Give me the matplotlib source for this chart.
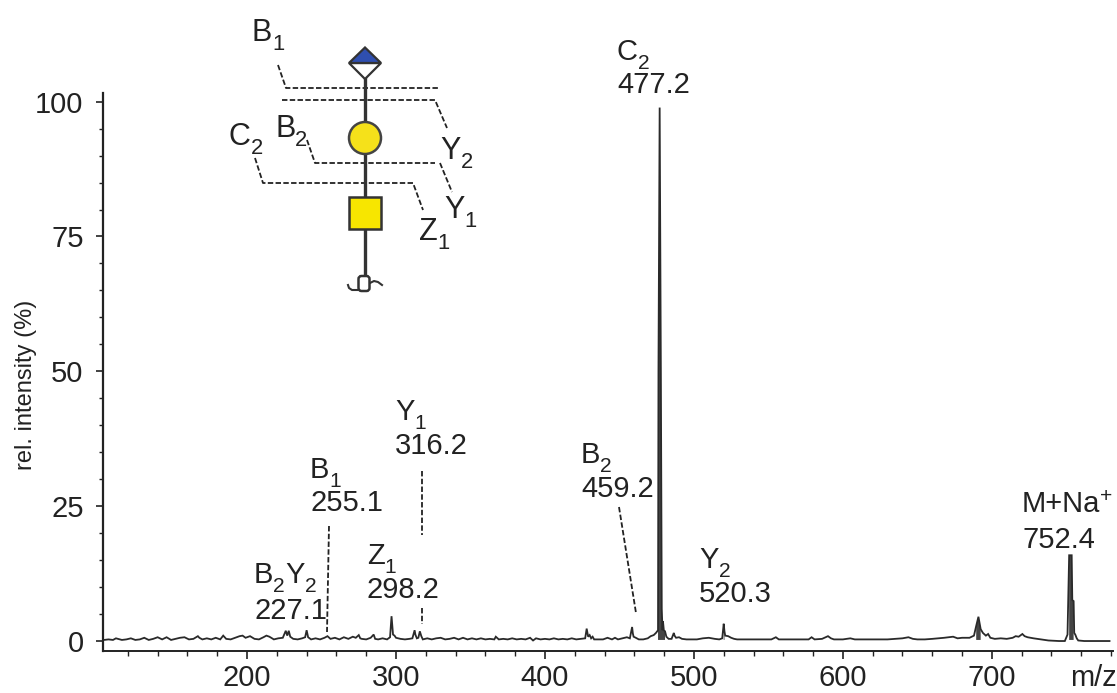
import matplotlib
matplotlib.use("Agg")
import matplotlib.pyplot as plt
from matplotlib.patches import Circle, Polygon, Rectangle, FancyBboxPatch
from matplotlib.ticker import MultipleLocator

plt.rcParams['font.family'] = ['Liberation Sans', 'DejaVu Sans']

# spectrum
mz = [104, 107, 110, 112, 116, 119, 122, 125, 128, 131,
      134, 137, 140, 143, 146, 149, 152, 155, 158, 161,
      164, 167, 168, 170, 173, 176, 179, 182, 184, 186,
      189, 192, 195, 197, 199, 202, 205, 208, 211, 213,
      215, 218, 221, 224, 226, 227, 228, 229, 231, 234,
      237, 239, 240, 241, 243, 246, 249, 252, 254, 256,
      259, 262, 265, 268, 271, 273, 275, 276, 277, 280,
      283, 285, 286, 288, 291, 294, 296, 297, 298, 299,
      300, 303, 306, 309, 311, 312.5, 313, 314, 315, 316,
      317, 318, 321, 324, 327, 330, 333, 336, 339, 342,
      345, 348, 351, 354, 357, 360, 363, 366, 367, 369,
      372, 375, 378, 381, 384, 387, 390, 392, 394, 397,
      400, 403, 406, 409, 412, 415, 418, 421, 424, 427,
      428, 429, 430, 431, 432, 433, 436, 439, 442, 445,
      447, 449, 452, 455, 457, 458.5, 459, 459.5, 461, 463,
      466, 469, 471, 473, 474.5, 475.9, 476.2, 477.0, 477.8, 478.4,
      478.9, 479.2, 479.8, 480.6, 481.5, 483, 485, 486.5, 487, 488,
      490, 492, 495, 498, 502, 506, 510, 514, 517, 519,
      520, 520.5, 521, 523, 525, 527, 529, 533, 538, 545,
      552, 555, 557, 562, 570, 577, 579, 581, 586, 590,
      592, 594, 600, 605, 608, 612, 620, 630, 640, 644,
      647, 650, 655, 660, 668, 674, 677, 680, 685, 688,
      689.5, 691, 692.5, 694, 696, 697.5, 699, 702, 706, 710,
      714, 716, 718, 720.5, 722, 724, 728, 733, 738, 745,
      749, 750.8, 751.9, 753.6, 754, 754.9, 755.3, 756, 757, 758,
      762, 770, 779]
intensity = [0.2, 0.3, 0.2, 0.5, 0.2, 0.3, 0.5, 0.2, 0.3, 0.6,
             0.2, 0.4, 0.7, 0.3, 0.7, 0.2, 0.4, 0.6, 0.7, 0.3,
             0.4, 0.9, 0.6, 0.3, 0.5, 0.3, 0.6, 0.3, 1.0, 0.4,
             0.3, 0.6, 0.9, 1.0, 0.6, 0.9, 0.4, 0.3, 0.7, 1.0,
             0.8, 0.3, 0.5, 0.6, 1.9, 1.0, 1.9, 0.8, 0.4, 0.3,
             0.5, 0.7, 2.0, 0.7, 0.3, 0.5, 0.3, 0.6, 0.9, 0.4,
             0.6, 0.3, 0.7, 0.4, 0.8, 0.6, 1.1, 0.5, 0.4, 0.3,
             0.6, 1.2, 0.4, 0.3, 0.5, 0.3, 0.7, 4.6, 1.2, 1.0,
             0.6, 0.4, 0.3, 0.4, 0.5, 2.0, 1.2, 0.5, 0.6, 1.8,
             0.9, 0.3, 0.5, 0.3, 0.5, 0.6, 0.3, 0.4, 0.6, 0.3,
             0.6, 0.3, 0.5, 0.3, 0.5, 0.3, 0.4, 0.3, 0.8, 0.3,
             0.4, 0.3, 0.5, 0.3, 0.4, 0.3, 0.6, 0.1, 0.5, 0.3,
             0.4, 0.3, 0.5, 0.3, 0.4, 0.3, 0.5, 0.3, 0.4, 0.5,
             2.3, 0.8, 1.1, 0.5, 0.8, 0.3, 0.3, 0.3, 0.6, 0.3,
             0.6, 0.3, 0.5, 0.7, 0.5, 2.6, 1.4, 0.8, 0.6, 0.3,
             0.3, 0.5, 0.9, 1.1, 1.5, 2.0, 50.0, 98.9, 50.0, 6.0,
             2.0, 3.7, 2.0, 1.8, 0.8, 0.4, 0.4, 1.5, 1.0, 0.6,
             0.7, 0.4, 0.3, 0.3, 0.3, 0.5, 0.6, 0.4, 0.3, 0.5,
             3.2, 1.8, 1.0, 0.9, 0.6, 0.4, 0.3, 0.3, 0.3, 0.3,
             0.3, 0.7, 0.3, 0.3, 0.3, 0.3, 0.7, 0.3, 0.4, 0.9,
             0.5, 0.3, 0.3, 0.5, 0.3, 0.3, 0.3, 0.3, 0.5, 0.7,
             0.4, 0.3, 0.3, 0.4, 0.6, 0.8, 0.5, 0.6, 0.6, 1.0,
             2.8, 4.5, 2.2, 1.5, 1.0, 1.3, 0.6, 0.4, 0.5, 0.4,
             0.6, 0.9, 0.8, 1.3, 0.9, 0.7, 0.5, 0.3, 0.1, 0.0,
             0.0, 1.2, 15.9, 15.9, 7.6, 7.4, 1.5, 1.2, 0.5, 0.1,
             0.0, 0.0, 0.0]

x_major = [200, 300, 400, 500, 600, 700]
y_major = [0, 25, 50, 75, 100]

# (parts of first line, second line, x px, baseline px of each line)
peak_labels = [
    ([("C", ""), ("2", "sub")], "477.2", 617, 60, 93),
    ([("B", ""), ("1", "sub")], "255.1", 310, 478, 511),
    ([("Y", ""), ("1", "sub")], "316.2", 395, 420, 454),
    ([("Z", ""), ("1", "sub")], "298.2", 367, 564, 598),
    ([("B", ""), ("2", "sub"), ("Y", ""), ("2", "sub")], "227.1", 254, 583, 619),
    ([("B", ""), ("2", "sub")], "459.2", 581, 463, 497),
    ([("Y", ""), ("2", "sub")], "520.3", 699, 568, 602),
    ([("M+Na", ""), ("+", "sup")], "752.4", 1022, 512, 548),
]
peak_leaders = [
    ([329, 327], [526, 632]),
    ([422, 422], [471, 535]),
    ([422, 422], [608, 624]),
    ([619, 636], [507, 613]),
]
glycan_labels = [
    ("B", "1", 252, 41), ("C", "2", 229, 145), ("B", "2", 275, 137),
    ("Y", "2", 440, 159), ("Y", "1", 444, 218), ("Z", "1", 419, 240),
]
glycan_cuts = [
    ([278, 286, 438], [65, 88, 88]),
    ([282, 435, 447], [100, 100, 128]),
    ([307, 315, 435], [140, 163, 163]),
    ([440, 452], [163, 192]),
    ([255, 263, 413, 423], [158, 183, 183, 210]),
]

W, H = 1117, 693
fig = plt.figure(figsize=(W / 100, H / 100), dpi=100)
INK = '#222222'
FS = 21

# main axes, positioned to match the pixel calibration of the picture
left, right, top, bottom = 103, 1112.5, 93, 651
ax = fig.add_axes([left / W, 1 - bottom / H, (right - left) / W, (bottom - top) / H])
# only the tall peaks look solid, the baseline stays a plain line
tall = [v > 1.5 for v in intensity]
ax.fill_between(mz, 0.2, intensity, where=tall, color='#444444', lw=0)
ax.plot(mz, intensity, color='#2a2a2a', lw=1.3, solid_joinstyle='miter')
ax.set_xlim(103.3, 781)
ax.set_ylim(-1.85, 101.6)
ax.set_xticks(x_major)
ax.set_yticks(y_major)
ax.xaxis.set_minor_locator(MultipleLocator(20))
ax.yaxis.set_minor_locator(MultipleLocator(5))
ax.tick_params(axis='x', which='major', length=6, width=1.2, labelsize=FS, pad=3.5, color=INK, labelcolor=INK)
ax.tick_params(axis='x', which='minor', length=3.5, width=1.0, color=INK)
ax.tick_params(axis='y', which='major', length=5, width=1.2, labelsize=FS, pad=9, color=INK, labelcolor=INK)
ax.tick_params(axis='y', which='minor', length=3, width=1.0, color=INK)
ax.spines[['top', 'right']].set_visible(False)
ax.spines['left'].set_linewidth(1.6)
ax.spines['bottom'].set_linewidth(1.4)
ax.spines['left'].set_color(INK)
ax.spines['bottom'].set_color(INK)
ax.set_ylabel("rel. intensity (%)", fontsize=17, color=INK)
ax.yaxis.set_label_coords((37 - left) / (right - left), (bottom - 385) / (bottom - top))

# overlay in picture pixels for labels, leaders and the glycan sketch
ov = fig.add_axes([0, 0, 1, 1])
ov.set_xlim(0, W)
ov.set_ylim(H, 0)
ov.axis('off')
ov.patch.set_alpha(0)
renderer = fig.canvas.get_renderer()


def draw_parts(parts, x, y, size):
    # sub/superscripts sit lower/higher here than mathtext would put them
    for text, kind in parts:
        small = kind != ""
        dy = {"": 0, "sub": 0.42 * size, "sup": -0.5 * size}[kind]
        t = ov.text(x, y + dy, text, fontsize=size * 0.72 if small else size, color=INK, va='baseline')
        x = t.get_window_extent(renderer).x1


ov.text(1070, 686, "m/z", fontsize=FS, color=INK, va='baseline')

for parts, value, x, y1, y2 in peak_labels:
    draw_parts(parts, x, y1, FS)
    ov.text(x, y2, value, fontsize=FS, color=INK, va='baseline')

for xs, ys in peak_leaders + glycan_cuts:
    ov.plot(xs, ys, color=INK, lw=1.3, dashes=(3, 1.3))

for head, sub, x, y in glycan_labels:
    draw_parts([(head, ""), (sub, "sub")], x, y, 22)

# glycan: stem first, then the residues on top
ov.plot([365, 365], [70, 276], color='#333333', lw=2.4, zorder=2)
ov.add_patch(Polygon([(349, 63), (365, 79), (381, 63)], fc='white', ec='#333333', lw=1.6, zorder=3))
ov.add_patch(Polygon([(349, 63), (365, 47.5), (381, 63)], fc='#2f4fb0', ec='#333333', lw=1.6, zorder=3))
ov.add_patch(Circle((365, 138), 16, fc='#f5e11a', ec='#444444', lw=1.8, zorder=3))
ov.add_patch(Rectangle((349, 197), 32, 31.5, fc='#f7e600', ec='#333333', lw=1.8, zorder=3))
ov.add_patch(FancyBboxPatch((358.5, 276), 11, 15, boxstyle="round,pad=0,rounding_size=3",
                            fc='white', ec='#333333', lw=1.8, zorder=3))
ov.plot([348, 349, 352, 358], [285, 288, 290, 290], color='#333333', lw=1.5)
ov.plot([370, 374, 378, 382], [283, 281, 282, 285], color='#333333', lw=1.5)

fig.savefig("out.png", dpi=100, facecolor='white')
